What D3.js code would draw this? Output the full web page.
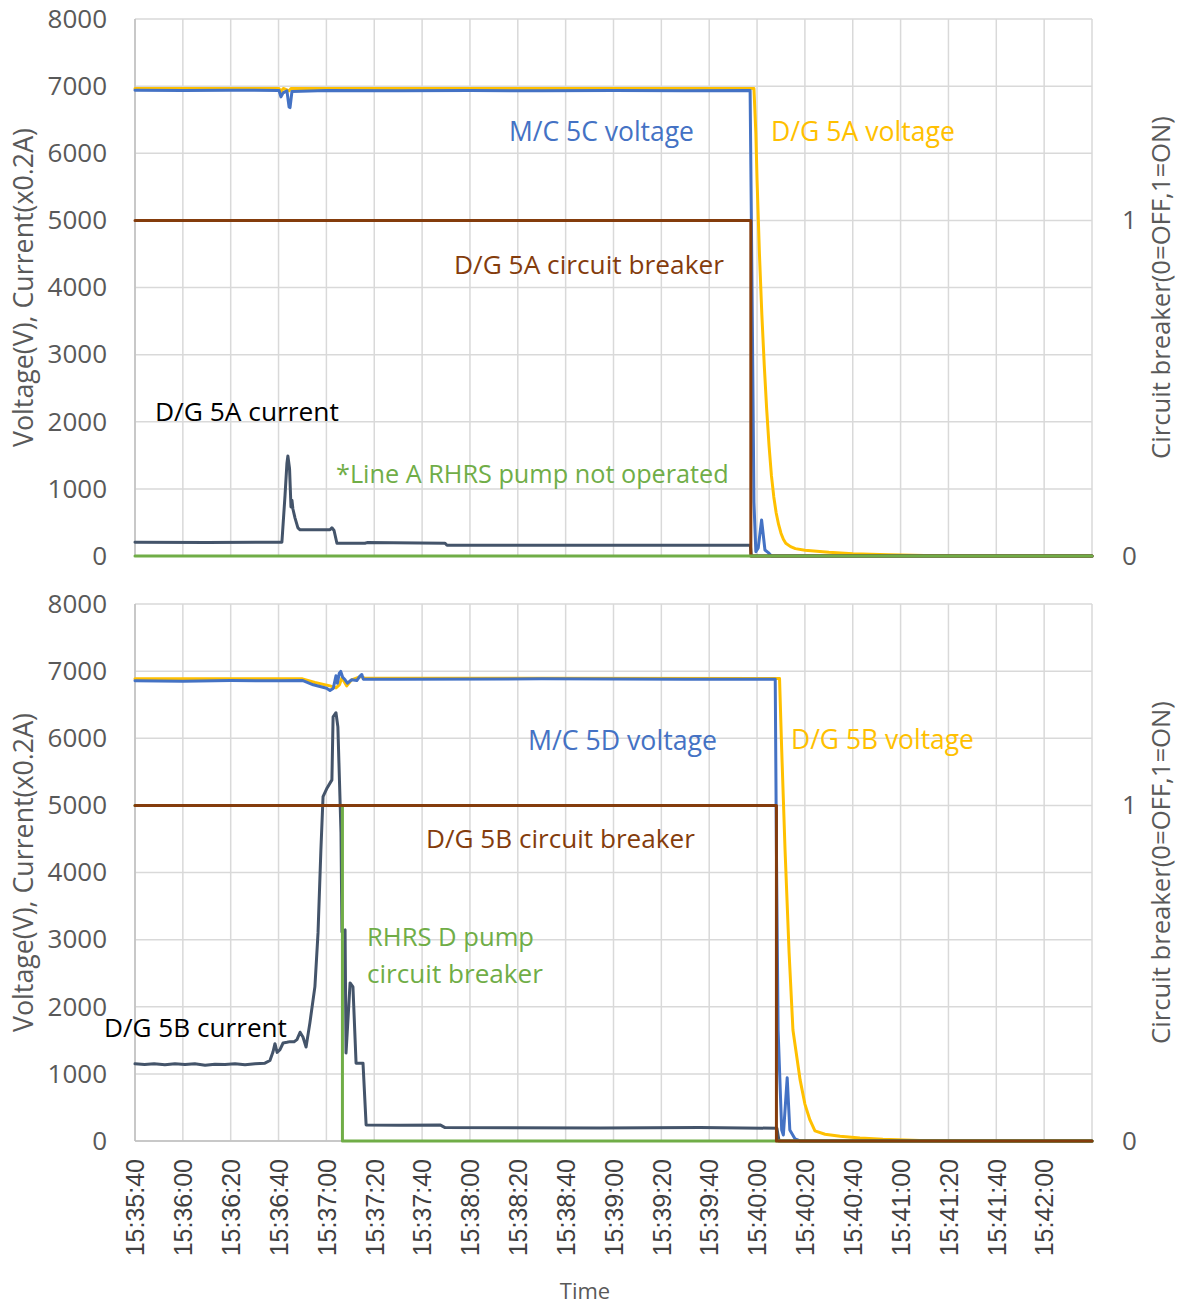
<!DOCTYPE html>
<html><head><meta charset="utf-8">
<script src="https://cdn.jsdelivr.net/npm/d3@7"></script>
<style>body{margin:0;background:#fff}svg{display:block}</style>
</head><body>
<svg id="chart" width="1186" height="1307"></svg>
<script>
// ---------- DATA ----------
const xTickLabels = ["15:35:40","15:36:00","15:36:20","15:36:40","15:37:00","15:37:20","15:37:40","15:38:00","15:38:20","15:38:40","15:39:00","15:39:20","15:39:40","15:40:00","15:40:20","15:40:40","15:41:00","15:41:20","15:41:40","15:42:00"];
const xDomain = ["15:35:40","15:42:20"];
const leftTicks = [0,1000,2000,3000,4000,5000,6000,7000,8000];
const rightTicks = [0,1];

// Panel A (upper)
const mc5cTimes = ["15:35:40","15:36:00","15:36:20","15:36:40.2","15:36:41","15:36:41.9","15:36:43.5","15:36:44.4","15:36:44.8","15:36:45.6","15:37:00","15:37:30","15:38:00","15:38:30","15:39:00","15:39:30","15:39:57.1","15:39:57.9","15:39:58.7","15:39:59.5","15:40:00.5","15:40:01.9","15:40:03.3","15:40:04.7","15:40:06","15:42:20"];
const mc5cValues = [6940,6935,6940,6935,6840,6900,6930,6690,6680,6920,6935,6930,6935,6930,6935,6930,6935,4000,800,64,120,536,90,50,0,0];

const dg5aVoltTimes = ["15:35:40","15:36:40.2","15:36:41","15:36:42","15:36:44.4","15:36:45.2","15:37:30","15:38:30","15:39:30","15:39:58.7","15:39:59.5","15:40:00","15:40:01","15:40:02","15:40:03","15:40:04","15:40:05","15:40:06","15:40:07","15:40:08","15:40:09","15:40:10","15:40:11","15:40:12","15:40:14","15:40:16","15:40:20","15:40:30","15:40:40","15:40:55","15:41:10","15:41:30","15:42:20"];
const dg5aVoltValues = [6965,6965,6920,6965,6930,6965,6965,6965,6965,6965,6300,5600,4500,3600,2850,2200,1650,1200,880,640,470,340,250,190,140,110,85,55,35,18,8,0,0];

const dg5aCurTimes = ["15:35:40","15:36:10","15:36:41.4","15:36:42.7","15:36:43.5","15:36:43.9","15:36:44.6","15:36:45.2","15:36:45.6","15:36:46","15:36:46.9","15:36:48.1","15:36:49","15:37:01.5","15:37:02.3","15:37:03.2","15:37:04.4","15:37:16.1","15:37:17","15:37:49.6","15:37:50.4","15:39:57.2","15:39:57.6","15:42:20"];
const dg5aCurValues = [205,200,205,900,1380,1490,1300,730,830,700,565,420,390,390,420,380,190,190,200,190,160,160,0,0];

const dg5aCbTimes = ["15:35:40","15:39:57.4","15:39:57.4","15:42:20"];
const dg5aCbValues = [1,1,0,0];

const rhrsATimes = ["15:35:40","15:42:20"];
const rhrsAValues = [0,0];

// Panel B (lower)
const mc5dTimes = ["15:35:40","15:36:00","15:36:20","15:36:40","15:36:50.2","15:36:54.5","15:36:57.3","15:37:00.1","15:37:01.5","15:37:02.9","15:37:04","15:37:04.6","15:37:05.4","15:37:06","15:37:06.8","15:37:07.8","15:37:08.8","15:37:09.6","15:37:10.6","15:37:12.7","15:37:14.1","15:37:14.8","15:37:15.4","15:37:30","15:38:30","15:39:30","15:40:07.6","15:40:08.1","15:40:08.8","15:40:10.3","15:40:11","15:40:12.6","15:40:13.7","15:40:15.9","15:40:18","15:42:20"];
const mc5dValues = [6855,6850,6860,6855,6860,6796,6770,6746,6711,6746,6930,6820,6970,6995,6910,6870,6820,6845,6870,6860,6930,6950,6880,6880,6885,6880,6880,4340,1654,164,90,943,164,30,0,0];

const dg5bVoltTimes = ["15:35:40","15:36:50","15:36:55.2","15:37:01.5","15:37:04","15:37:05.5","15:37:06.5","15:37:08.5","15:37:10.5","15:37:14.5","15:37:16","15:38:30","15:40:09.4","15:40:10.3","15:40:11.7","15:40:13.4","15:40:15","15:40:18","15:40:20","15:40:22.1","15:40:24.2","15:40:28.4","15:40:34.7","15:40:43","15:40:52.6","15:41:08","15:41:25","15:42:20"];
const dg5bVoltValues = [6885,6885,6830,6780,6750,6800,6900,6780,6870,6920,6895,6895,6890,5830,4340,2800,1654,910,550,313,150,100,70,45,25,8,0,0];

const dg5bCurTimes = ["15:35:40","15:35:44","15:35:48","15:35:52.5","15:35:56.7","15:36:00.9","15:36:05","15:36:09.3","15:36:13.4","15:36:17.6","15:36:21.8","15:36:26","15:36:30.2","15:36:34.3","15:36:36.4","15:36:37.7","15:36:38.5","15:36:39.4","15:36:40.6","15:36:41.9","15:36:43.5","15:36:44.8","15:36:46.5","15:36:47.7","15:36:49","15:36:50.2","15:36:51.5","15:36:53.1","15:36:55.2","15:36:56.5","15:36:57.7","15:36:58.6","15:37:00.3","15:37:02.3","15:37:02.8","15:37:04","15:37:04.8","15:37:06.1","15:37:06.5","15:37:07.8","15:37:08.2","15:37:09.9","15:37:11.1","15:37:12.4","15:37:15.3","15:37:16.6","15:37:30.8","15:37:47.5","15:37:49.6","15:38:54.4","15:39:36.2","15:40:08.3","15:40:09.2","15:42:20"];
const dg5bCurValues = [1150,1140,1150,1135,1150,1140,1150,1130,1145,1140,1150,1135,1150,1160,1200,1330,1450,1320,1360,1460,1470,1480,1480,1510,1620,1550,1400,1760,2300,3100,4340,5130,5260,5380,6320,6380,6170,4590,3115,3145,1310,2355,2295,1160,1160,240,235,240,200,195,200,190,0,0];

const dg5bCbTimes = ["15:35:40","15:40:08.1","15:40:08.1","15:42:20"];
const dg5bCbValues = [1,1,0,0];

const rhrsDCbTimes = ["15:35:40","15:37:06.7","15:37:06.7","15:42:20"];
const rhrsDCbValues = [1,1,0,0];

// ---------- LAYOUT / STYLE ----------
const C = {blue:"#4472C4", yellow:"#FFC000", brown:"#843C0C", green:"#70AD47", slate:"#44546A"};
const plotLeft = 135, plotRight = 1092;
const panels = [
  {top:19, bottom:556,
   series:[
     {t:dg5aVoltTimes, v:dg5aVoltValues, c:C.yellow, axis:"L"},
     {t:mc5cTimes, v:mc5cValues, c:C.blue, axis:"L"},
     {t:dg5aCurTimes, v:dg5aCurValues, c:C.slate, axis:"L"},
     {t:dg5aCbTimes, v:dg5aCbValues, c:C.brown, axis:"R"},
     {t:rhrsATimes, v:rhrsAValues, c:C.green, axis:"R"}
   ],
   labels:[
     {text:"M/C 5C voltage", x:509, y:141, w:185, c:C.blue},
     {text:"D/G 5A voltage", x:771, y:141, w:184, c:C.yellow},
     {text:"D/G 5A circuit breaker", x:454, y:274, w:270, c:C.brown},
     {text:"D/G 5A current", x:155, y:421, w:184, c:"#000"},
     {text:"*Line A RHRS pump not operated", x:336, y:483, w:393, c:C.green}
   ]},
  {top:604, bottom:1141,
   series:[
     {t:dg5bVoltTimes, v:dg5bVoltValues, c:C.yellow, axis:"L"},
     {t:mc5dTimes, v:mc5dValues, c:C.blue, axis:"L"},
     {t:dg5bCurTimes, v:dg5bCurValues, c:C.slate, axis:"L"},
     {t:rhrsDCbTimes, v:rhrsDCbValues, c:C.green, axis:"R"},
     {t:dg5bCbTimes, v:dg5bCbValues, c:C.brown, axis:"R"}
   ],
   labels:[
     {text:"M/C 5D voltage", x:528, y:750, w:189, c:C.blue},
     {text:"D/G 5B voltage", x:791, y:749, w:183, c:C.yellow},
     {text:"D/G 5B circuit breaker", x:426, y:848, w:269, c:C.brown},
     {text:"RHRS D pump", x:367, y:946, w:167, c:C.green},
     {text:"circuit breaker", x:367, y:983, w:176, c:C.green},
     {text:"D/G 5B current", x:104, y:1037, w:183, c:"#000"}
   ]}
];

// ---------- DRAW ----------
function parseT(s){
  const p = s.split(":"); const sec = +p[2];
  return new Date(2000,0,1,+p[0],+p[1],Math.floor(sec),Math.round((sec%1)*1000));
}
const svg = d3.select("#chart");
const FONT = "'Open Sans', sans-serif";
const x = d3.scaleTime().domain(xDomain.map(parseT)).range([plotLeft, plotRight]);
const gridTimes = xTickLabels.concat([xDomain[1]]).map(parseT);

function fit(sel, w, base){
  sel.attr("font-size", base);
  const cw = sel.node().getComputedTextLength();
  sel.attr("font-size", base * w / cw);
}

panels.forEach((P, i) => {
  const yL = d3.scaleLinear().domain([0,8000]).range([P.bottom, P.top]);
  const yR = d3.scaleLinear().domain([0,1.6]).range([P.bottom, P.top]);
  const g = svg.append("g");

  // grid
  g.append("g").selectAll("line").data(leftTicks).join("line")
    .attr("x1", plotLeft).attr("x2", plotRight)
    .attr("y1", d => yL(d)).attr("y2", d => yL(d))
    .attr("stroke", "#D9D9D9").attr("stroke-width", 1.5);
  g.append("g").selectAll("line").data(gridTimes).join("line")
    .attr("x1", d => x(d)).attr("x2", d => x(d))
    .attr("y1", P.top).attr("y2", P.bottom)
    .attr("stroke", "#D9D9D9").attr("stroke-width", 1.5);

  // axes lines
  g.append("line").attr("x1", plotLeft).attr("x2", plotLeft).attr("y1", P.top).attr("y2", P.bottom)
    .attr("stroke", "#BFBFBF").attr("stroke-width", 1.5);
  g.append("line").attr("x1", plotLeft).attr("x2", plotRight).attr("y1", P.bottom).attr("y2", P.bottom)
    .attr("stroke", "#BFBFBF").attr("stroke-width", 1.5);

  // left tick labels via axis
  const axL = g.append("g").attr("transform", `translate(${plotLeft},0)`)
    .call(d3.axisLeft(yL).tickValues(leftTicks).tickSize(0).tickPadding(28).tickFormat(d3.format("d")));
  axL.select(".domain").remove();
  axL.selectAll("text").attr("font-family", FONT).attr("font-size", 26).attr("fill", "#595959");

  const axR = g.append("g").attr("transform", `translate(${plotRight},0)`)
    .call(d3.axisRight(yR).tickValues(rightTicks).tickSize(0).tickPadding(30).tickFormat(d3.format("d")));
  axR.select(".domain").remove();
  axR.selectAll("text").attr("font-family", FONT).attr("font-size", 26).attr("fill", "#595959");

  // series
  P.series.forEach(s => {
    const ys = s.axis === "L" ? yL : yR;
    const pts = s.t.map((t, k) => [parseT(t), s.v[k]]);
    g.append("path").datum(pts)
      .attr("d", d3.line().x(d => x(d[0])).y(d => ys(d[1])))
      .attr("fill", "none").attr("stroke", s.c).attr("stroke-width", 3)
      .attr("stroke-linejoin", "round").attr("stroke-linecap", "round");
  });

  // annotations
  P.labels.forEach(L => {
    const t = g.append("text").attr("x", L.x).attr("y", L.y).attr("fill", L.c)
      .attr("font-family", FONT).text(L.text);
    fit(t, L.w, 26);
  });

  // axis titles
  const lt = g.append("text").attr("transform", `translate(33,${(P.top+P.bottom)/2}) rotate(-90)`)
    .attr("text-anchor", "middle").attr("fill", "#595959").attr("font-family", FONT)
    .text("Voltage(V), Current(x0.2A)");
  fit(lt, 319, 24);
  const rt = g.append("text").attr("transform", `translate(1170,${(P.top+P.bottom)/2}) rotate(-90)`)
    .attr("text-anchor", "middle").attr("fill", "#595959").attr("font-family", FONT)
    .text("Circuit breaker(0=OFF,1=ON)");
  fit(rt, 343, 24);

  if (i === 1) {
    const axB = g.append("g").attr("transform", `translate(0,${P.bottom})`)
      .call(d3.axisBottom(x).tickValues(xTickLabels.map(parseT)).tickSize(0).tickFormat(d3.timeFormat("%H:%M:%S")));
    axB.select(".domain").remove();
    axB.selectAll("text")
      .attr("font-family", "'Liberation Sans', Arial, sans-serif").attr("font-size", 25)
      .attr("fill", "#404040")
      .attr("text-anchor", "end")
      .attr("transform", "rotate(-90)")
      .attr("x", -18).attr("y", 0).attr("dy", "0.35em");
    g.append("text").attr("x", 585).attr("y", 1299).attr("text-anchor", "middle")
      .attr("fill", "#595959").attr("font-family", FONT).attr("font-size", 22).text("Time");
  }
});
</script>
</body></html>
